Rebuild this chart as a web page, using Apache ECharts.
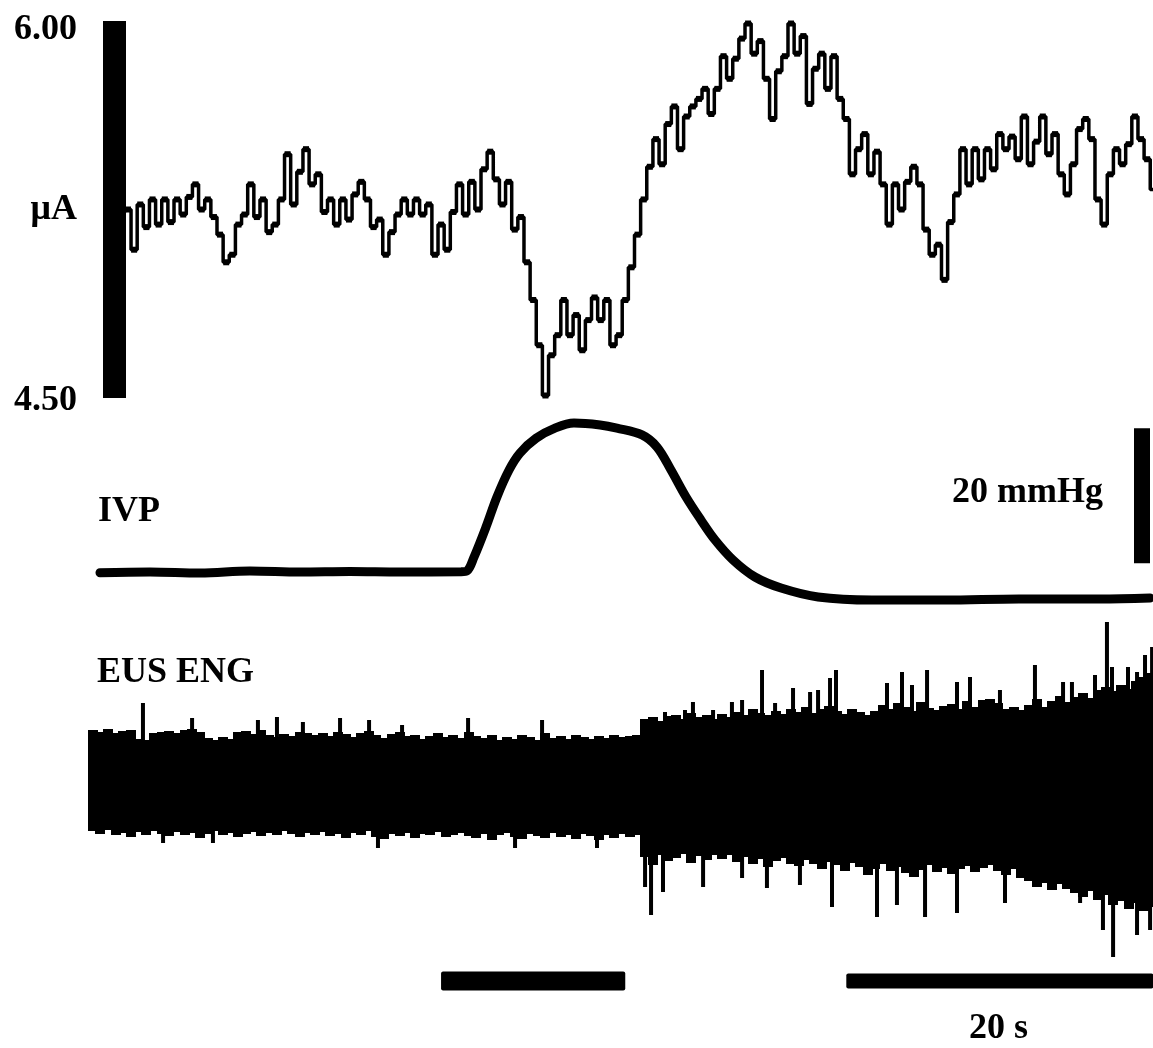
<!DOCTYPE html>
<html>
<head>
<meta charset="UTF-8">
<title>μA / IVP / EUS ENG</title>
<script src="https://cdn.jsdelivr.net/npm/echarts@6/dist/echarts.min.js"></script>
</head>
<body style="margin:0;background:#fff">
<div id="chart" style="width:1153px;height:1048px"></div>
<script>
// shared time axis, seconds (20 s scale bar at the bottom right)
var T_MAX = 69.38;

// top trace: current in μA, one reading every 0.4 s from t = 2.2 s
var currentStart = 2.2;
var currentStep = 0.4;
var current = [
    5.24, 5.25, 5.09, 5.27, 5.18, 5.29, 5.19, 5.29, 5.20, 5.29,
    5.23, 5.30, 5.35, 5.25, 5.29, 5.22, 5.15, 5.04, 5.07, 5.19,
    5.23, 5.35, 5.22, 5.29, 5.16, 5.19, 5.29, 5.47, 5.27, 5.40,
    5.49, 5.35, 5.39, 5.24, 5.29, 5.19, 5.29, 5.21, 5.31, 5.36,
    5.29, 5.18, 5.21, 5.07, 5.16, 5.23, 5.29, 5.23, 5.29, 5.23,
    5.27, 5.07, 5.19, 5.09, 5.24, 5.35, 5.23, 5.36, 5.25, 5.41,
    5.48, 5.37, 5.27, 5.36, 5.17, 5.22, 5.04, 4.89, 4.71, 4.51,
    4.67, 4.75, 4.89, 4.75, 4.83, 4.69, 4.81, 4.90, 4.81, 4.89,
    4.71, 4.75, 4.89, 5.02, 5.15, 5.29, 5.42, 5.53, 5.43, 5.59,
    5.66, 5.49, 5.62, 5.66, 5.69, 5.73, 5.63, 5.73, 5.86, 5.77,
    5.85, 5.93, 5.99, 5.87, 5.92, 5.77, 5.61, 5.80, 5.86, 5.99,
    5.87, 5.94, 5.67, 5.81, 5.87, 5.73, 5.86, 5.69, 5.61, 5.39,
    5.49, 5.55, 5.39, 5.48, 5.35, 5.19, 5.35, 5.25, 5.36, 5.42,
    5.35, 5.17, 5.07, 5.11, 4.97, 5.20, 5.31, 5.49, 5.35, 5.49,
    5.37, 5.49, 5.41, 5.55, 5.49, 5.54, 5.45, 5.62, 5.43, 5.52,
    5.62, 5.47, 5.55, 5.39, 5.31, 5.43, 5.57, 5.61, 5.53, 5.29,
    5.19, 5.39, 5.49, 5.43, 5.51, 5.62, 5.53, 5.45, 5.33
];

// IVP, mmHg
var ivpTime = [0.78, 4.04, 7.30, 10.55, 13.81, 17.07, 20.33, 24.30, 24.69, 25.15,
    25.93, 26.64, 27.43, 28.14, 29.19, 30.42, 31.66, 33.36, 34.46, 36.09,
    37.07, 37.98, 38.96, 39.93, 40.85, 42.02, 43.45, 45.15, 47.56, 51.07,
    55.83, 60.65, 65.93, 69.19];
var ivp = [4.79, 4.89, 4.74, 5.04, 4.89, 4.96, 4.89, 4.92, 5.05, 7.11,
    11.56, 16.0, 20.0, 22.5, 24.7, 26.2, 26.96, 26.67, 26.2, 25.2,
    23.4, 20.0, 16.0, 12.6, 9.63, 6.67, 4.15, 2.52, 1.19, 0.74,
    0.74, 0.89, 0.89, 1.04];
// 20 mmHg calibration bar: time, from, to
var ivpScaleBar = [68.66, 6.2, 26.2];

// EUS ENG envelope, one reading every 0.5 s from t = 0
var engStep = 0.5;
var engHi = [
    5.5, 5.3, 5.6, 5.2, 5.4, 5.5, 4.6, 4.5, 5.2, 5.3,
    5.4, 5.2, 5.5, 5.6, 5.3, 4.7, 4.5, 4.8, 4.6, 5.3,
    5.4, 5.1, 5.5, 5.0, 4.8, 5.1, 4.9, 5.3, 5.2, 5.0,
    5.2, 4.9, 5.3, 5.1, 4.8, 5.2, 5.4, 5.0, 4.7, 5.1,
    5.3, 4.9, 5.0, 4.6, 4.9, 5.2, 4.8, 5.0, 4.7, 5.3,
    4.9, 4.7, 5.0, 4.5, 4.8, 4.6, 5.0, 4.8, 4.5, 5.2,
    4.7, 4.9, 4.6, 5.0, 4.8, 4.6, 4.9, 4.7, 5.0, 4.8,
    4.9, 5.0, 6.6, 6.8, 6.4, 6.9, 7.0, 6.6, 7.2, 6.8,
    7.0, 6.6, 7.1, 6.8, 7.3, 7.0, 7.6, 7.2, 7.0, 7.4,
    7.1, 7.6, 7.3, 7.8, 7.2, 7.6, 7.9, 7.4, 7.1, 7.6,
    7.3, 7.0, 7.4, 8.0, 7.6, 8.2, 7.8, 7.4, 8.3, 7.7,
    7.5, 7.9, 8.1, 7.6, 8.4, 7.8, 8.5, 8.6, 8.2, 7.6,
    7.8, 7.5, 8.0, 8.6, 7.8, 8.4, 8.9, 8.3, 8.8, 9.2,
    8.7, 9.5, 9.8, 9.4, 10.0, 9.6, 10.4, 10.8, 11.2
];
var engLo = [
    -4.6, -4.9, -4.5, -5.0, -4.8, -5.2, -4.7, -5.0, -4.6, -4.9,
    -5.1, -4.7, -5.0, -4.8, -5.3, -4.9, -4.6, -5.0, -4.8, -5.2,
    -4.9, -4.7, -5.1, -4.8, -5.0, -4.6, -4.9, -5.2, -4.8, -5.0,
    -4.7, -5.1, -4.9, -5.3, -4.8, -5.0, -4.6, -5.2, -5.4, -4.9,
    -5.1, -4.8, -5.3, -4.9, -5.0, -4.7, -5.2, -5.0, -4.8, -5.1,
    -5.3, -4.9, -5.5, -5.0, -4.8, -5.2, -5.4, -4.9, -5.1, -5.3,
    -4.8, -5.2, -5.0, -5.4, -4.9, -5.1, -5.5, -5.0, -5.3, -4.9,
    -5.2, -5.0, -7.2, -8.0, -7.0, -7.6, -7.3, -6.9, -7.8, -7.1,
    -7.5, -7.0, -7.4, -7.0, -7.7, -7.2, -7.9, -7.4, -8.2, -7.6,
    -7.3, -7.9, -8.1, -7.5, -7.9, -8.4, -7.7, -8.0, -8.6, -7.8,
    -8.2, -9.0, -8.4, -7.9, -8.6, -8.2, -8.8, -9.2, -8.5, -8.0,
    -8.7, -8.3, -8.9, -8.4, -8.1, -8.7, -8.3, -8.0, -8.6, -9.0,
    -8.4, -9.3, -9.6, -10.2, -9.8, -10.5, -9.9, -10.4, -10.8, -11.2,
    -10.6, -11.5, -11.0, -12.0, -11.6, -12.4, -11.8, -12.6, -12.2
];
// single large deflections: [time, value]
var engSpikes = [
    [3.58, 8.2], [6.78, 6.7], [11.07, 6.5], [12.31, 6.8], [14.0, 6.3],
    [16.42, 6.7], [18.31, 6.5], [20.46, 6.0], [24.76, 6.7], [29.58, 6.5],
    [37.59, 7.3], [38.89, 7.5], [39.41, 8.3], [40.72, 7.5], [41.95, 8.3],
    [42.61, 8.5], [43.91, 11.5], [44.76, 8.2], [45.93, 9.7], [47.04, 9.3],
    [47.56, 9.5], [48.34, 10.7], [48.73, 11.5], [52.05, 10.2], [53.03, 11.3],
    [53.68, 10.0], [54.66, 11.5], [56.61, 10.3], [57.46, 10.8], [59.41, 9.5],
    [61.69, 12.0], [63.52, 10.3], [64.10, 10.3], [65.6, 11.0], [66.38, 16.3],
    [66.71, 11.8], [67.75, 11.8], [68.34, 11.3], [68.86, 13.0], [69.32, 13.8],
    [4.89, -5.8], [8.14, -5.8], [18.89, -6.3], [27.82, -6.3], [33.16, -6.3],
    [36.29, -10.2], [36.68, -13.0], [37.46, -10.7], [40.07, -10.2], [42.61, -9.3],
    [44.23, -10.3], [46.38, -10.0], [48.47, -12.2], [51.40, -13.2], [52.70, -12.0],
    [54.53, -13.2], [56.61, -12.8], [59.74, -11.8], [64.63, -11.8], [66.12, -14.5],
    [66.78, -17.2], [68.34, -15.0], [69.19, -14.5]
];

// bars under the traces: start, end (s)
var marks = [[23.0, 35.0], [49.4, 69.4]];
var markThickness = [19, 15];

var FONT_FAMILY = '"Liberation Serif", "Times New Roman", serif';
var FONT = 'bold 36px ' + FONT_FAMILY;

var chart = echarts.init(document.getElementById('chart'));

function hiddenX(i, min) {
    return { gridIndex: i, type: 'value', min: min, max: T_MAX, show: false };
}
function hiddenY(i, min, max) {
    return { gridIndex: i, type: 'value', min: min, max: max, show: false };
}

var labelStyle = { fontFamily: FONT_FAMILY, fontSize: 36, fontWeight: 'bold', color: '#000' };

var option = {
    backgroundColor: '#fff',
    animation: false,
    grid: [
        { left: 114, top: 21, width: 1039, height: 377, outerBoundsMode: 'none', containLabel: false },
        { left: 88, top: 402.5, width: 1065, height: 202.5, outerBoundsMode: 'none' },
        { left: 88, top: 605, width: 1065, height: 360, outerBoundsMode: 'none' },
        { left: 88, top: 966, width: 1065, height: 30, outerBoundsMode: 'none' }
    ],
    xAxis: [hiddenX(0, 1.69), hiddenX(1, 0), hiddenX(2, 0), hiddenX(3, 0)],
    yAxis: [
        {
            gridIndex: 0, type: 'value', min: 4.5, max: 6.0, interval: 1.5,
            axisLine: { show: true, lineStyle: { color: '#000', width: 23, cap: 'butt' } },
            axisTick: { show: false },
            splitLine: { show: false },
            axisLabel: {
                margin: 37,
                fontFamily: FONT_FAMILY, fontSize: 36, fontWeight: 'bold', color: '#000',
                formatter: function (v) {
                    return v >= 6 ? '{top|' + v.toFixed(2) + '}' : '{bot|' + v.toFixed(2) + '}';
                },
                rich: {
                    top: Object.assign({ padding: [18, 0, 0, 0] }, labelStyle),
                    bot: Object.assign({ padding: [5, 0, 0, 0] }, labelStyle)
                }
            }
        },
        hiddenY(1, 0, 30),
        hiddenY(2, -18, 18),
        hiddenY(3, 0, 1)
    ],
    series: [
        {
            name: 'μA',
            type: 'line',
            xAxisIndex: 0, yAxisIndex: 0,
            step: 'middle',
            data: current.map(function (v, i) { return [currentStart + i * currentStep, v]; }),
            showSymbol: true,
            showAllSymbol: true,
            symbol: 'rect',
            symbolSize: 6,
            itemStyle: { color: '#000' },
            lineStyle: { color: '#000', width: 3.5 }
        },
        {
            name: 'IVP',
            type: 'line',
            xAxisIndex: 1, yAxisIndex: 1,
            data: ivpTime.map(function (t, i) { return [t, ivp[i]]; }),
            smooth: 0.35,
            showSymbol: false,
            lineStyle: { color: '#000', width: 9, cap: 'round' },
            markLine: {
                silent: true,
                symbol: 'none',
                label: { show: false },
                lineStyle: { color: '#000', width: 16, type: 'solid', cap: 'butt' },
                data: [[
                    { coord: [ivpScaleBar[0], ivpScaleBar[1]] },
                    { coord: [ivpScaleBar[0], ivpScaleBar[2]] }
                ]]
            }
        },
        {
            name: 'EUS ENG',
            type: 'custom',
            xAxisIndex: 2, yAxisIndex: 2,
            data: engHi.map(function (h, i) { return [i * engStep, engLo[i], h]; }),
            renderItem: function (params, api) {
                var a = api.coord([api.value(0), api.value(2)]);
                var b = api.coord([api.value(0) + engStep, api.value(1)]);
                return {
                    type: 'rect',
                    shape: { x: Math.floor(a[0]), y: a[1], width: Math.ceil(b[0] - a[0]) + 2, height: b[1] - a[1] },
                    style: { fill: '#000' }
                };
            }
        },
        {
            name: 'EUS ENG spikes',
            type: 'custom',
            xAxisIndex: 2, yAxisIndex: 2,
            data: engSpikes,
            renderItem: function (params, api) {
                var a = api.coord([api.value(0), 0]);
                var b = api.coord([api.value(0), api.value(1)]);
                return {
                    type: 'rect',
                    shape: { x: a[0] - 2, y: Math.min(a[1], b[1]), width: 4, height: Math.abs(b[1] - a[1]) },
                    style: { fill: '#000' }
                };
            }
        },
        {
            name: 'marks',
            type: 'custom',
            xAxisIndex: 3, yAxisIndex: 3,
            data: marks,
            renderItem: function (params, api) {
                var a = api.coord([api.value(0), 0.5]);
                var b = api.coord([api.value(1), 0.5]);
                var h = markThickness[params.dataIndex];
                return {
                    type: 'rect',
                    shape: { x: a[0], y: a[1] - h / 2, width: b[0] - a[0], height: h, r: 2 },
                    style: { fill: '#000' }
                };
            }
        }
    ],
    graphic: [
        { type: 'text', x: 77, y: 210, style: { text: 'μA', font: FONT, fill: '#000', align: 'right', verticalAlign: 'middle' } },
        { type: 'text', x: 98, y: 512, style: { text: 'IVP', font: FONT, fill: '#000', verticalAlign: 'middle' } },
        { type: 'text', x: 97, y: 673, style: { text: 'EUS ENG', font: FONT, fill: '#000', verticalAlign: 'middle' } },
        { type: 'text', x: 1103, y: 493, style: { text: '20 mmHg', font: FONT, fill: '#000', align: 'right', verticalAlign: 'middle' } },
        { type: 'text', x: 969, y: 1029, style: { text: '20 s', font: FONT, fill: '#000', verticalAlign: 'middle' } }
    ]
};

chart.setOption(option);
</script>
</body>
</html>
